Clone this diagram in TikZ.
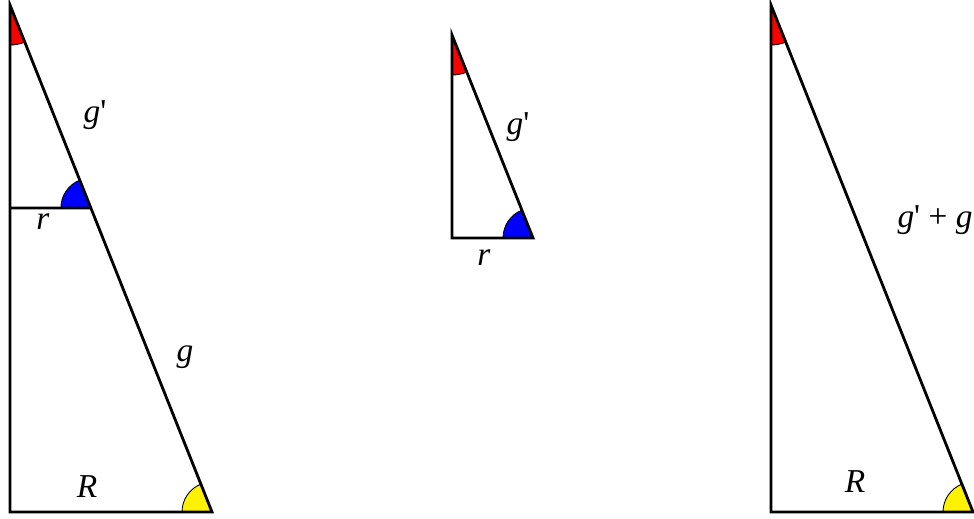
\documentclass[tikz,border=0pt]{standalone}
\usepackage{fontspec}
\setmainfont{Liberation Serif}[Ligatures=TeXOff]
\usepackage{tikz}
\usetikzlibrary{angles, calc}

\begin{document}
\begin{tikzpicture}[font=\fontsize{19}{22}\selectfont,
  side/.style={draw=black, line width=1.6pt},
  anglemark/.style={draw=black, line width=0.5pt, angle radius=0.6cm},
  lbl/.style={inner sep=0pt}]
  \useasboundingbox (0,0) rectangle (19.48,10.36);
  % Left triangle, cut by the radius r
  \coordinate (A) at (0.2,10.26);
  \coordinate (B) at (0.2,0.12);
  \coordinate (C) at (4.24,0.12);
  \coordinate (E) at (0.2,6.2);
  \coordinate (D) at ($(A)!0.4004!(C)$);
  % Small triangle
  \coordinate (M1) at (9.04,9.66);
  \coordinate (M2) at (9.04,5.6);
  \coordinate (M3) at (10.66,5.6);
  % Large triangle
  \coordinate (P1) at (15.42,10.26);
  \coordinate (P2) at (15.42,0.12);
  \coordinate (P3) at (19.46,0.12);
  % Angle marks
  \pic[anglemark, fill=red, angle radius=0.8cm] {angle=B--A--C};
  \pic[anglemark, fill=blue] {angle=A--D--E};
  \pic[anglemark, fill=yellow] {angle=A--C--B};
  \pic[anglemark, fill=red, angle radius=0.8cm] {angle=M2--M1--M3};
  \pic[anglemark, fill=blue] {angle=M1--M3--M2};
  \pic[anglemark, fill=red, angle radius=0.8cm] {angle=P2--P1--P3};
  \pic[anglemark, fill=yellow] {angle=P1--P3--P2};
  % Sides
  \draw[side] (A) -- (B) -- (C) -- cycle;
  \draw[side] (E) -- (D);
  \draw[side] (M1) -- (M2) -- (M3) -- cycle;
  \draw[side] (P1) -- (P2) -- (P3) -- cycle;
  % Labels
  \node[lbl] (gp1) at (1.9,8.06) {\textit{g}'};
  \node[lbl] (r1) at (0.86,5.92) {\textit{r}};
  \node[lbl] (g1) at (3.7,3.22) {\textit{g}};
  \node[lbl] (R1) at (1.74,0.62) {\textit{R}};
  \node[lbl] (gp2) at (10.36,7.82) {\textit{g}'};
  \node[lbl] (r2) at (9.68,5.2) {\textit{r}};
  \node[lbl] (gpg) at (18.7,5.96) {\textit{g}' + \textit{g}};
  \node[lbl] (R3) at (17.1,0.72) {\textit{R}};
\end{tikzpicture}
\end{document}
